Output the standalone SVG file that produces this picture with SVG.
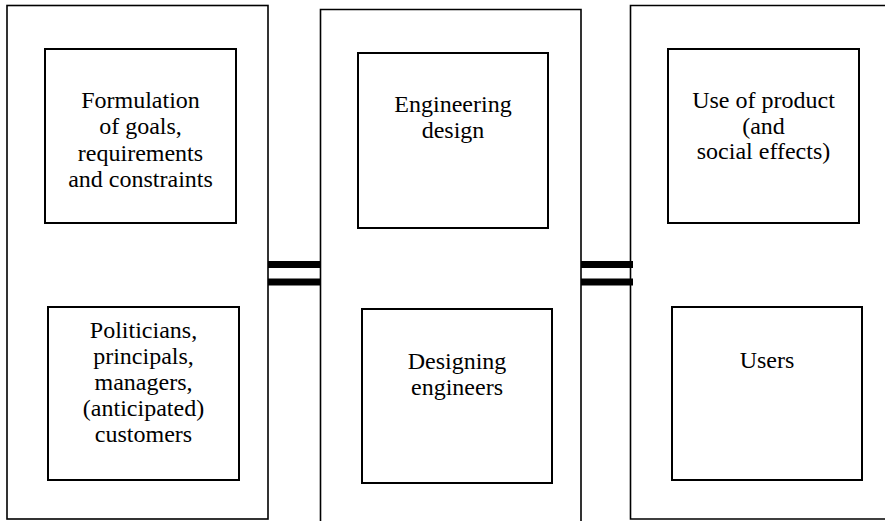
<svg xmlns="http://www.w3.org/2000/svg" width="885" height="521" viewBox="0 0 885 521">
<style>
.outer{fill:none;stroke:#000;stroke-width:1.6}
.inner{fill:#fff;stroke:#000;stroke-width:2}
.t{font-family:"Liberation Serif","Times New Roman",serif;font-size:24px;fill:#000;text-anchor:middle}
.bar{fill:#000}
</style>
<rect width="885" height="521" fill="#fff"/>
<g id="col-left">
<rect class="outer" x="7" y="5.5" width="261" height="513.5"/>
</g>
<g id="col-middle">
<path class="outer" d="M320.5,522 V9.5 H581 V522"/>
</g>
<g id="col-right">
<path class="outer" d="M890,5.5 H630.5 V519 H890"/>
</g>
<g id="goals">
<rect class="inner" x="45" y="49" width="191" height="174"/>
<text class="t" x="140.5" y="107.5">Formulation</text>
<text class="t" x="140.5" y="134">of goals,</text>
<text class="t" x="140.5" y="160.5">requirements</text>
<text class="t" x="140.5" y="187">and constraints</text>
</g>
<g id="stakeholders">
<rect class="inner" x="48" y="307" width="191" height="173"/>
<text class="t" x="143.5" y="338">Politicians,</text>
<text class="t" x="143.5" y="364">principals,</text>
<text class="t" x="143.5" y="390">managers,</text>
<text class="t" x="143.5" y="416">(anticipated)</text>
<text class="t" x="143.5" y="442">customers</text>
</g>
<g id="design">
<rect class="inner" x="358" y="53" width="190" height="175"/>
<text class="t" x="453" y="111.5">Engineering</text>
<text class="t" x="453" y="137.5">design</text>
</g>
<g id="engineers">
<rect class="inner" x="362" y="309" width="190" height="174"/>
<text class="t" x="457" y="369">Designing</text>
<text class="t" x="457" y="394.5">engineers</text>
</g>
<g id="use">
<rect class="inner" x="668" y="49" width="191" height="174"/>
<text class="t" x="763.5" y="108">Use of product</text>
<text class="t" x="763.5" y="133.5">(and</text>
<text class="t" x="763.5" y="159">social effects)</text>
</g>
<g id="users">
<rect class="inner" x="672" y="307" width="190" height="173"/>
<text class="t" x="767" y="368">Users</text>
</g>
<g id="connectors">
<rect class="bar" x="268" y="261" width="52.5" height="7"/>
<rect class="bar" x="268" y="278.5" width="52.5" height="7"/>
<rect class="bar" x="581" y="261" width="52" height="7"/>
<rect class="bar" x="581" y="278.5" width="52" height="7"/>
</g>
</svg>
